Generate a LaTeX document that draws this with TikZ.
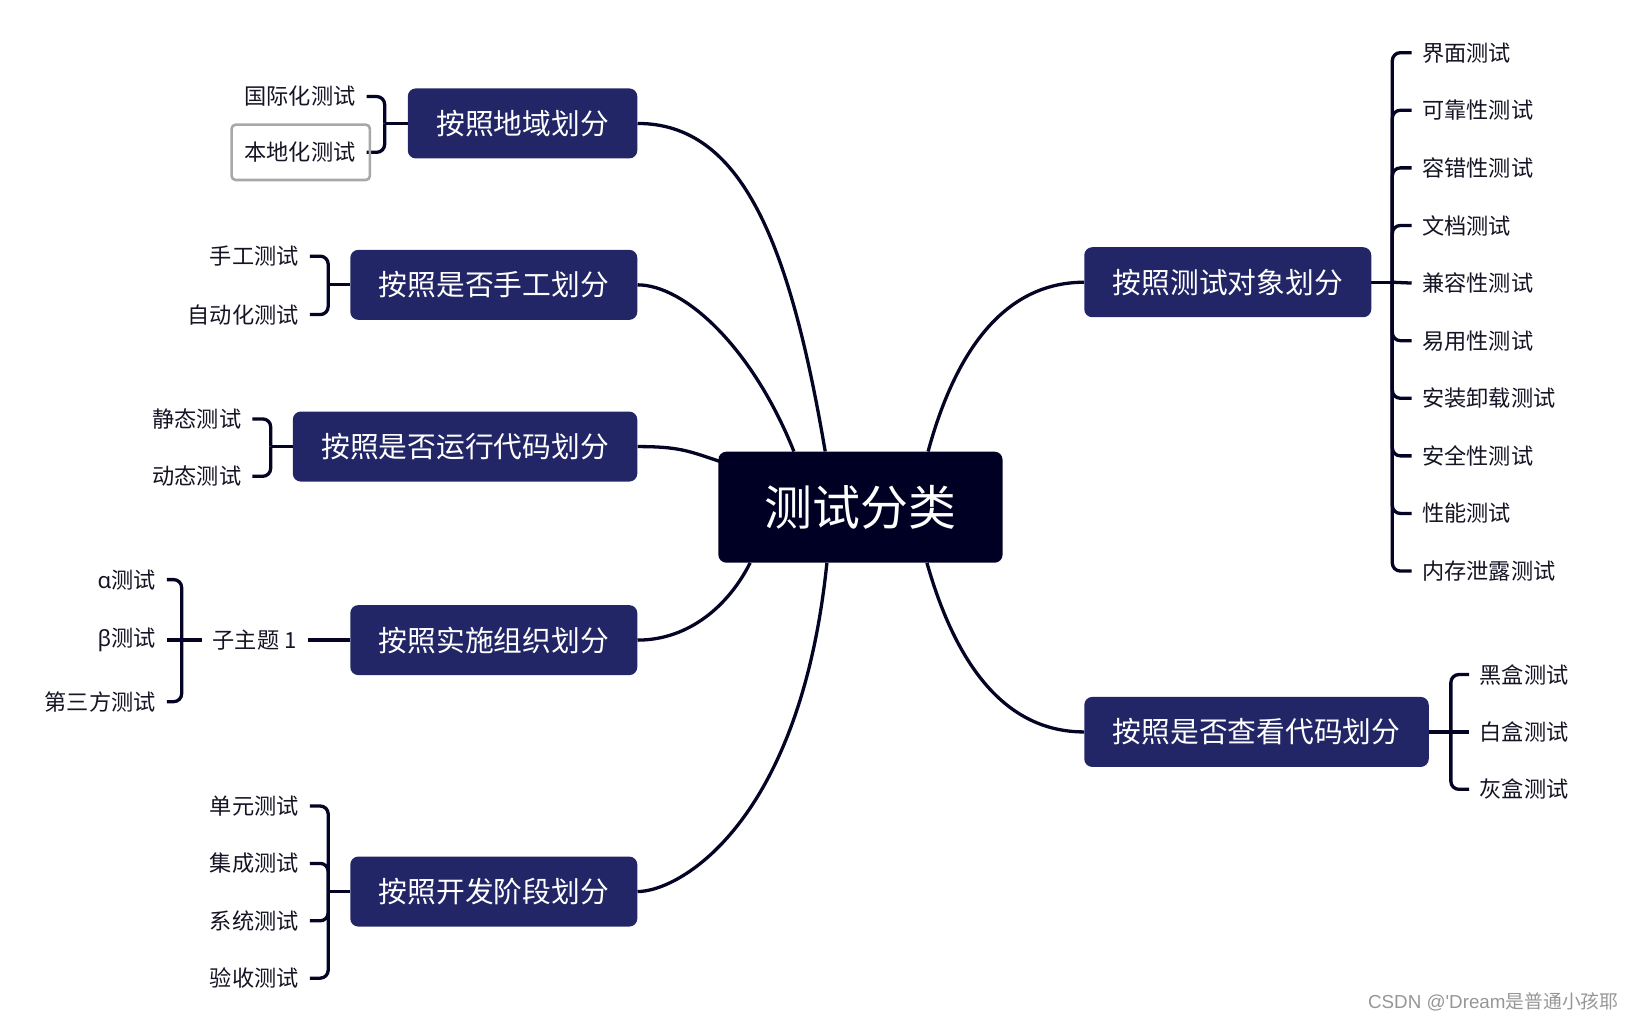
\documentclass[tikz,border=0pt]{standalone}
\usepackage{fontspec}
\setmainfont{Noto Sans CJK SC}
\newfontfamily\grk{Noto Sans}
\newfontfamily\wmlatin{Liberation Sans}
\usetikzlibrary{calc,backgrounds}
\definecolor{rootc}{RGB}{0,0,36}
\definecolor{topicc}{RGB}{34,38,102}
\definecolor{linec}{RGB}{4,4,36}
\definecolor{leafc}{RGB}{20,20,36}
\definecolor{selc}{RGB}{168,168,168}
\definecolor{wmc}{RGB}{150,150,150}
\tikzset{
  rootbox/.style={fill=rootc, rounded corners=8pt, text=white, font=\fontsize{47.9}{56}\selectfont, inner xsep=46.3pt, inner ysep=0pt, minimum height=111pt},
  topicbox/.style={fill=topicc, rounded corners=8pt, text=white, font=\fontsize{28.75}{34}\selectfont, inner xsep=28.5pt, inner ysep=0pt, minimum height=70pt},
  leaf/.style={text=leafc, font=\fontsize{22.2}{26}\selectfont, inner xsep=11pt, inner ysep=0pt},
  rleaf/.style={leaf, inner xsep=10.5pt},
  conn/.style={draw=linec, line width=3.3pt},
  bconn/.style={conn, rounded corners=8pt},
  selbox/.style={draw=selc, line width=2.6pt, rounded corners=4pt},
}
\begin{document}
\begin{tikzpicture}[x=1.0434pt, y=-1.0434pt]
\useasboundingbox (0,0) rectangle (1568,980);

% root
\node[rootbox] (c) at (824.7,486.1) {测试分类};

% topics
\node[topicbox, anchor=east] (n1) at (611,118.3) {按照地域划分};
\node[topicbox, anchor=east] (n2) at (611,273) {按照是否手工划分};
\node[topicbox, anchor=east] (n3) at (611,428) {按照是否运行代码划分};
\node[topicbox, anchor=east] (n4) at (611,613.5) {按照实施组织划分};
\node[topicbox, anchor=east] (n5) at (611,854.5) {按照开发阶段划分};
\node[topicbox, anchor=west] (n6) at (1039,270.5) {按照测试对象划分};
\node[topicbox, anchor=west] (n7) at (1039,701.5) {按照是否查看代码划分};

% left leaves
\node[leaf, anchor=east] (l11) at (351.5,92.5) {国际化测试};
\node[leaf, anchor=east] (l12) at (351.5,146) {本地化测试};
\node[leaf, anchor=east] (l21) at (297,245.5) {手工测试};
\node[leaf, anchor=east] (l22) at (297,301.5) {自动化测试};
\node[leaf, anchor=east] (l31) at (242,401.5) {静态测试};
\node[leaf, anchor=east] (l32) at (242,456.5) {动态测试};
\node[leaf, anchor=east] (s4) at (295,613.5) {子主题 1};
\node[leaf, anchor=east] (l41) at (160,555.5) {{\grk α}测试};
\node[leaf, anchor=east] (l42) at (160,613.5) {{\grk β}测试};
\node[leaf, anchor=east] (l43) at (160,672.5) {第三方测试};
\node[leaf, anchor=east] (l51) at (297,772.5) {单元测试};
\node[leaf, anchor=east] (l52) at (297,827.5) {集成测试};
\node[leaf, anchor=east] (l53) at (297,882.5) {系统测试};
\node[leaf, anchor=east] (l54) at (297,937.5) {验收测试};

% right leaves
\node[rleaf, anchor=west] (r1) at (1353,50.5) {界面测试};
\node[rleaf, anchor=west] (r2) at (1353,105.7) {可靠性测试};
\node[rleaf, anchor=west] (r3) at (1353,160.9) {容错性测试};
\node[rleaf, anchor=west] (r4) at (1353,216.1) {文档测试};
\node[rleaf, anchor=west] (r5) at (1353,271.3) {兼容性测试};
\node[rleaf, anchor=west] (r6) at (1353,326.5) {易用性测试};
\node[rleaf, anchor=west] (r7) at (1353,381.7) {安装卸载测试};
\node[rleaf, anchor=west] (r8) at (1353,436.9) {安全性测试};
\node[rleaf, anchor=west] (r9) at (1353,492.1) {性能测试};
\node[rleaf, anchor=west] (r10) at (1353,547.3) {内存泄露测试};
\node[rleaf, anchor=west] (q1) at (1408,646.5) {黑盒测试};
\node[rleaf, anchor=west] (q2) at (1408,701.5) {白盒测试};
\node[rleaf, anchor=west] (q3) at (1408,756.5) {灰盒测试};

% selection box
\draw[selbox] ($(l12.east)+(-129.5,-26.5)$) rectangle ($(l12.east)+(3,26.5)$);

% watermark
\node[anchor=west, text=wmc, inner sep=0pt, font=\fontsize{18.8}{22}\selectfont] (wm) at (1311,960) {{\wmlatin CSDN @'Dream}是普通小孩耶};

% junction coordinates
\coordinate (j1) at ($(n1.west)+(-22,0)$);
\coordinate (j2) at ($(n2.west)+(-21,0)$);
\coordinate (j3) at ($(n3.west)+(-21,0)$);
\coordinate (j4) at ($(s4.west)+(-19,0)$);
\coordinate (j5) at ($(n5.west)+(-21,0)$);
\coordinate (j6) at ($(n6.east)+(20,0)$);
\coordinate (j7) at ($(n7.east)+(21,0)$);

\begin{pgfonlayer}{background}
% main curves
\draw[conn] (n1.east) .. controls +(100,0) and +(-34,-200) .. ($(c.north west)+(102.6,0)$);
\draw[conn] (n2.east) .. controls +(45,0) and +(-40,-100) .. ($(c.north west)+(72.6,0)$);
\draw[conn] (n3.east) .. controls +(40,0) and +(-30,-10) .. ($(c.north west)+(1.5,9.5)$);
\draw[conn] (n4.east) .. controls +(50,0) and +(-20,40) .. ($(c.south west)+(30.6,0)$);
\draw[conn] (n5.east) .. controls +(40,0) and +(-25.6,250) .. ($(c.south west)+(104.2,0)$);
\draw[conn] (n6.west) .. controls +(-80,0) and +(24.4,-90) .. ($(c.north west)+(201.2,0)$);
\draw[conn] (n7.west) .. controls +(-80,0) and +(25.5,90) .. ($(c.south west)+(200.1,0)$);

% brackets
\draw[conn] (n1.west) -- (j1);
\draw[bconn] (j1) |- (l11.east);
\draw[bconn] (j1) |- (l12.east);
\draw[conn] (n2.west) -- (j2);
\draw[bconn] (j2) |- (l21.east);
\draw[bconn] (j2) |- (l22.east);
\draw[conn] (n3.west) -- (j3);
\draw[bconn] (j3) |- (l31.east);
\draw[bconn] (j3) |- (l32.east);
\draw[conn] (n4.west) -- (s4.east);
\draw[conn] (s4.west) -- (j4);
\draw[bconn] (j4) |- (l41.east);
\draw[conn] (j4) -- (l42.east);
\draw[bconn] (j4) |- (l43.east);
\draw[conn] (n5.west) -- (j5);
\draw[bconn] (j5) |- (l51.east);
\draw[bconn] (j5) |- (l52.east);
\draw[bconn] (j5) |- (l53.east);
\draw[bconn] (j5) |- (l54.east);
\draw[conn] (n6.east) -- (j6);
\foreach \r in {r1,r2,r3,r4,r6,r7,r8,r9,r10} {\draw[bconn] (j6) |- (\r.west);}
\draw[conn] (j6) -- (r5.west);
\draw[conn] (n7.east) -- (j7);
\draw[bconn] (j7) |- (q1.west);
\draw[conn] (j7) -- (q2.west);
\draw[bconn] (j7) |- (q3.west);
\end{pgfonlayer}
\end{tikzpicture}
\end{document}
